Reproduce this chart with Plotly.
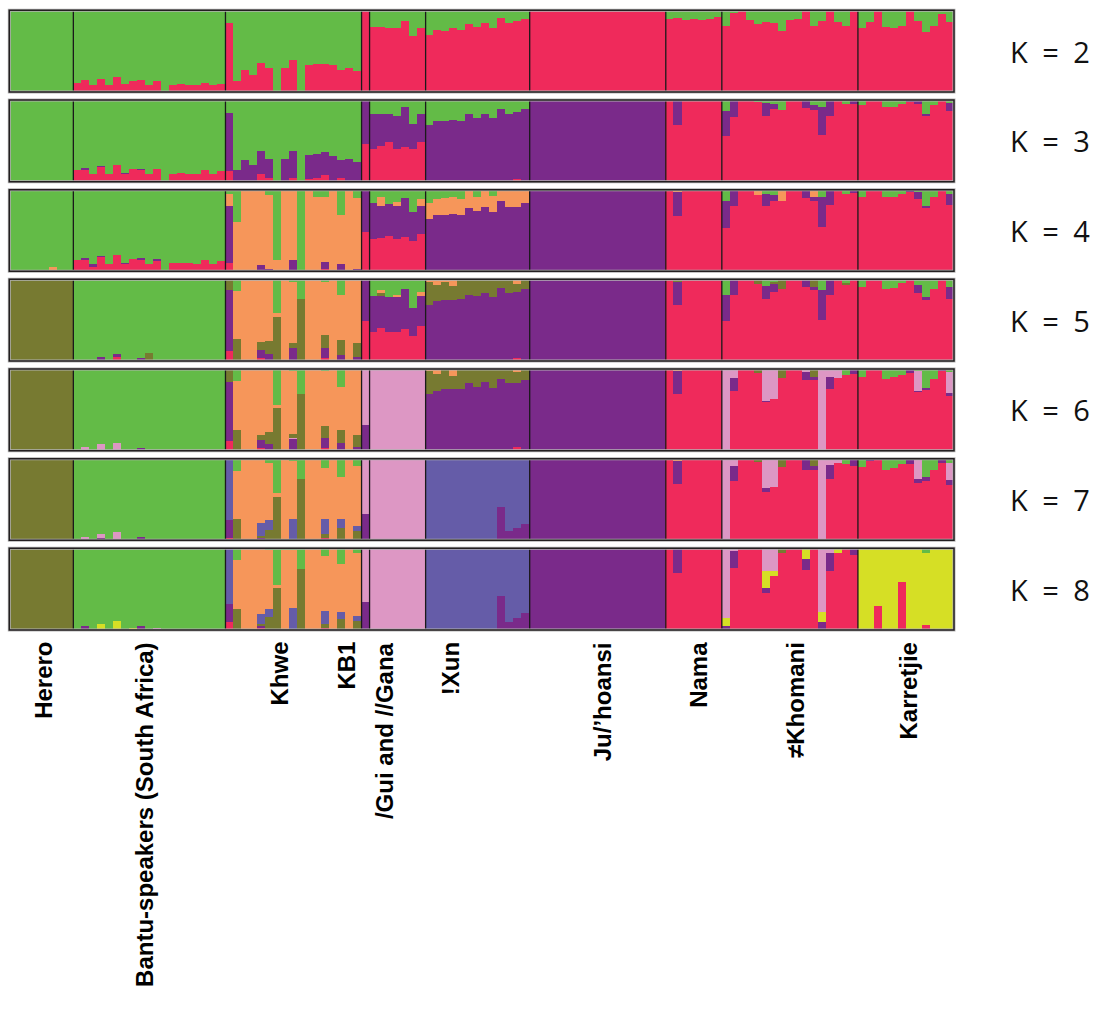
import plotly.graph_objects as go

# Population groups in plotting order and number of individuals per group
GROUPS = ["Herero", "Bantu-speakers (South Africa)", "Khwe", "KB1", "/Gui and //Gana",
          "!Xun", "Ju/’hoansi", "Nama", "≠Khomani", "Karretjie"]
GROUP_SIZES = [8, 19, 17, 1, 7, 13, 17, 7, 17, 12]
LABEL_SHIFT = [2, -5, -14, -20, -13, -27, 5, 4, 5, 3]

COLORS = {
    "red": "#EF2A5B",
    "purple": "#7A2A8A",
    "orange": "#F6965A",
    "olive": "#777A31",
    "pink": "#DD97C4",
    "slate": "#655CA8",
    "yellow": "#D6DF25",
    "green": "#63BB47",
}

# Ancestry proportions (percent) per individual; green takes the remainder of each bar
K2_RED = [
    0,0,0,0,0,0,0,0,
    11,14,8,16,8,18,9,13,14,8,13,0,8,9,8,8,11,8,10,
    84,13,26,20,35,29,0,29,39,0,33,34,34,33,26,29,25,
    100,
    79,79,78,78,86,68,78,
    70,75,74,78,75,83,79,84,78,90,84,86,89,
    100,100,100,100,100,100,100,100,100,100,100,100,100,100,100,100,100,
    89,90,88,89,88,89,91,
    81,96,100,88,83,85,84,74,88,89,99,81,86,100,85,80,100,
    78,85,100,79,78,80,100,86,73,80,95,85,
]

K3_RED = [
    0,0,0,0,0,0,0,0,
    14,14,9,18,9,21,10,15,15,10,15,0,10,11,10,10,14,10,13,
    13,0,1,0,9,4,0,0,5,0,3,5,8,0,5,0,0,
    46,
    40,44,48,40,43,40,48,
    0,0,0,0,0,0,0,0,0,0,0,3,0,
    0,0,0,0,0,0,0,0,0,0,0,0,0,0,0,0,0,
    100,70,100,100,100,100,100,
    56,79,100,100,97,81,89,88,100,100,90,88,57,81,100,95,95,
    94,100,100,92,92,95,97,95,80,94,100,87,
]
K3_PURPLE = [
    0,0,0,0,0,0,0,0,
    0,3,0,1,0,0,1,0,1,0,0,0,0,0,0,0,0,0,0,
    71,14,26,20,28,24,0,28,33,0,30,29,28,31,21,28,24,
    54,
    43,39,35,41,48,31,35,
    69,74,74,76,74,83,78,83,78,89,83,82,89,
    100,100,100,100,100,100,100,100,100,100,100,100,100,100,100,100,100,
    0,29,0,0,0,0,0,
    30,21,0,0,0,15,6,0,0,0,10,6,35,19,0,0,5,
    0,0,0,0,0,0,3,4,3,0,0,9,
]

K4_RED = [
    0,0,0,0,0,0,0,0,
    14,14,6,18,10,21,10,15,14,10,14,0,11,11,11,10,14,10,13,
    11,0,0,0,0,0,0,0,0,0,0,0,3,0,1,0,0,
    49,
    40,41,44,40,43,38,46,
    0,0,0,0,0,0,0,0,0,0,0,0,0,
    0,0,0,0,0,0,0,0,0,0,0,0,0,0,0,0,0,
    100,68,100,100,100,100,100,
    54,81,100,100,94,80,86,86,100,100,90,87,55,82,100,95,96,
    92,100,100,92,92,95,97,89,79,92,100,82,
]
K4_PURPLE = [
    0,0,0,0,0,0,0,0,
    0,3,3,1,0,0,1,0,3,0,1,0,0,0,0,0,0,0,0,
    70,0,0,0,8,3,0,0,14,0,0,0,9,0,8,0,3,
    51,
    44,39,39,40,47,35,35,
    65,70,69,71,70,78,74,79,73,86,79,79,84,
    100,100,100,100,100,100,100,100,100,100,100,100,100,100,100,100,100,
    0,29,0,0,0,0,0,
    32,19,0,0,0,15,8,0,0,0,10,4,37,18,0,0,4,
    0,0,0,0,0,0,3,9,2,0,0,13,
]
K4_ORANGE = [
    0,0,0,0,0,6,0,0,
    0,0,0,0,0,0,0,0,0,0,0,0,0,0,0,0,0,0,0,
    14,61,100,100,92,91,14,100,86,0,100,92,80,100,61,100,87,
    0,
    0,11,0,5,0,0,8,
    19,19,21,20,19,21,17,21,20,14,21,21,16,
    0,0,0,0,0,0,0,0,0,0,0,0,0,0,0,0,0,
    0,3,0,0,0,0,0,
    0,0,0,0,6,0,0,14,0,0,0,9,0,0,0,0,0,
    0,0,0,0,0,0,0,0,0,0,0,0,
]

K5_RED = [
    0,0,0,0,0,0,0,0,
    0,0,0,0,0,5,0,0,0,0,0,0,0,0,0,0,0,0,0,
    12,0,0,0,3,0,0,0,0,0,0,0,3,0,1,0,0,
    48,
    35,40,35,35,39,30,43,
    0,0,0,0,0,0,0,0,0,0,0,3,0,
    0,0,0,0,0,0,0,0,0,0,0,0,0,0,0,0,0,
    100,68,100,100,100,100,100,
    48,80,100,100,94,75,84,88,100,100,90,86,50,81,100,93,100,
    90,100,100,88,89,95,100,83,74,88,100,76,
]
K5_PURPLE = [
    0,0,0,0,0,0,0,0,
    0,1,0,4,0,3,0,0,3,0,1,0,0,0,0,0,0,0,0,
    74,0,0,0,10,8,0,0,16,0,0,0,13,0,6,0,4,
    52,
    44,39,43,43,49,35,36,
    68,73,74,74,76,81,79,83,78,89,83,81,88,
    100,100,100,100,100,100,100,100,100,100,100,100,100,100,100,100,100,
    0,28,0,0,0,0,0,
    33,20,0,0,0,17,11,0,0,0,10,4,37,19,0,0,0,
    0,0,0,0,0,0,0,10,4,0,0,14,
]
K5_OLIVE = [
    100,100,100,100,100,100,100,100,
    0,0,0,0,0,0,0,0,0,9,0,0,0,0,0,0,0,0,0,
    14,26,0,0,10,16,54,0,6,75,0,0,16,0,18,0,18,
    0,
    0,4,0,0,0,0,0,
    28,20,22,17,24,19,20,17,22,11,17,10,12,
    0,0,0,0,0,0,0,0,0,0,0,0,0,0,0,0,0,
    0,4,0,0,0,0,0,
    0,0,0,0,6,0,1,12,0,0,0,10,0,0,0,2,0,
    0,0,0,0,0,0,0,0,0,0,0,0,
]
K5_ORANGE = [
    0,0,0,0,0,0,0,0,
    0,0,0,0,0,0,0,0,0,0,0,0,0,0,0,0,0,0,0,
    0,59,100,100,77,76,4,100,74,0,100,100,64,100,56,100,78,
    0,
    0,4,0,2,0,0,5,
    4,7,4,9,0,0,1,0,0,0,0,6,0,
    0,0,0,0,0,0,0,0,0,0,0,0,0,0,0,0,0,
    0,0,0,0,0,0,0,
    0,0,0,0,0,0,0,0,0,0,0,0,0,0,0,0,0,
    0,0,0,0,0,0,0,0,0,0,0,0,
]

K6_RED = [
    0,0,0,0,0,0,0,0,
    0,0,0,0,0,0,0,0,0,0,0,0,0,0,0,0,0,0,0,
    12,0,0,0,3,0,0,0,0,0,0,0,3,0,1,0,0,
    0,
    0,0,0,0,0,0,0,
    0,0,0,0,0,0,0,0,0,0,0,4,0,
    0,0,0,0,0,0,0,0,0,0,0,0,0,0,0,0,0,
    100,69,100,100,100,100,100,
    0,73,100,100,95,60,63,89,100,100,87,86,0,75,89,93,94,
    90,100,100,88,90,93,95,72,74,88,98,67,
]
K6_PURPLE = [
    0,0,0,0,0,0,0,0,
    0,0,0,0,0,0,0,0,3,0,0,0,0,0,0,0,0,0,0,
    72,0,0,0,10,8,0,0,15,0,0,0,12,0,8,0,4,
    31,
    0,0,0,0,0,0,0,
    69,73,75,75,75,83,78,84,77,88,83,79,87,
    100,100,100,100,100,100,100,100,100,100,100,100,100,100,100,100,100,
    0,28,0,0,0,0,0,
    0,16,0,0,0,1,0,0,0,0,9,4,0,15,0,0,6,
    0,0,0,0,0,0,5,1,3,0,2,4,
]
K6_PINK = [
    0,0,0,0,0,0,0,0,
    0,4,0,8,0,10,0,1,0,0,1,0,0,0,0,0,0,0,0,
    0,0,0,0,0,0,0,0,1,0,0,0,0,0,0,0,0,
    69,
    100,100,100,100,100,100,100,
    0,0,0,0,0,0,0,0,0,0,0,0,0,
    0,0,0,0,0,0,0,0,0,0,0,0,0,0,0,0,0,
    0,0,0,0,0,0,0,
    100,11,0,0,0,39,37,0,0,0,4,0,100,10,11,0,0,
    0,0,0,0,0,0,0,25,0,0,0,25,
]
K6_OLIVE = [
    100,100,100,100,100,100,100,100,
    0,0,0,0,0,0,0,0,0,1,0,0,0,0,0,0,0,0,0,
    16,25,0,0,6,15,52,0,4,69,0,0,15,0,16,0,15,
    0,
    0,0,0,0,0,0,0,
    28,21,25,17,25,17,22,16,23,12,17,13,13,
    0,0,0,0,0,0,0,0,0,0,0,0,0,0,0,0,0,
    0,0,0,0,0,0,0,
    0,0,0,0,5,0,0,11,0,0,0,10,0,0,0,0,0,
    0,0,0,0,0,0,0,0,0,0,0,0,
]
K6_ORANGE = [
    0,0,0,0,0,0,0,0,
    0,0,0,0,0,0,0,0,0,0,0,0,0,0,0,0,0,0,0,
    0,60,100,100,81,77,4,100,78,0,100,100,68,100,53,100,81,
    0,
    0,0,0,0,0,0,0,
    3,6,0,8,0,0,0,0,0,0,0,4,0,
    0,0,0,0,0,0,0,0,0,0,0,0,0,0,0,0,0,
    0,3,0,0,0,0,0,
    0,0,0,0,0,0,0,0,0,0,0,0,0,0,0,0,0,
    0,0,0,0,0,0,0,0,0,0,0,0,
]

K7_RED = [
    0,0,0,0,0,0,0,0,
    0,0,0,0,0,0,0,0,0,0,0,0,0,0,0,0,0,0,0,
    3,0,0,0,2,0,0,0,0,0,0,0,3,0,0,0,0,
    0,
    0,0,0,0,0,0,0,
    0,0,0,0,0,0,0,0,0,0,0,0,0,
    0,0,0,0,0,0,0,0,0,0,0,0,0,0,0,0,0,
    100,70,100,100,100,100,100,
    0,73,100,100,96,60,66,90,100,100,87,86,0,75,95,94,92,
    90,97,100,87,89,94,94,71,73,86,95,68,
]
K7_PURPLE = [
    0,0,0,0,0,0,0,0,
    0,3,0,3,0,0,0,0,4,0,0,0,0,0,0,0,0,0,0,
    22,0,0,0,1,0,0,0,0,0,0,0,0,0,1,0,0,
    33,
    0,0,0,0,0,0,0,
    0,0,0,0,0,0,0,0,0,41,12,15,21,
    100,100,100,100,100,100,100,100,100,100,100,100,100,100,100,100,100,
    0,27,0,0,0,0,0,
    0,18,0,0,0,5,0,0,0,0,13,5,0,18,0,0,8,
    0,3,0,0,0,0,6,5,5,0,5,6,
]
K7_PINK = [
    0,0,0,0,0,0,0,0,
    0,1,0,5,0,11,0,2,0,0,2,0,0,0,0,0,0,0,0,
    0,0,0,0,0,0,0,0,0,0,0,0,0,0,0,0,0,
    67,
    100,100,100,100,100,100,100,
    0,0,0,0,0,0,0,0,0,0,0,0,0,
    0,0,0,0,0,0,0,0,0,0,0,0,0,0,0,0,0,
    0,0,0,0,0,0,0,
    100,9,0,0,0,35,33,0,0,0,0,0,100,7,5,0,0,
    0,0,0,0,0,0,0,23,0,0,0,21,
]
K7_OLIVE = [
    100,100,100,100,100,100,100,100,
    0,0,0,0,0,0,0,0,0,2,0,0,0,0,0,0,0,0,0,
    0,26,0,0,3,13,54,0,0,75,0,0,5,0,15,0,12,
    0,
    0,0,0,0,0,0,0,
    0,0,0,0,0,0,0,0,0,0,0,0,0,
    0,0,0,0,0,0,0,0,0,0,0,0,0,0,0,0,0,
    0,0,0,0,0,0,0,
    0,0,0,0,4,0,1,10,0,0,0,9,0,0,0,0,0,
    0,0,0,0,0,0,0,0,0,0,0,0,
]
K7_SLATE = [
    0,0,0,0,0,0,0,0,
    0,0,0,0,0,0,0,0,0,0,0,0,0,0,0,0,0,0,0,
    75,0,0,0,16,12,0,0,27,0,0,0,19,0,11,0,6,
    0,
    0,0,0,0,0,0,0,
    100,100,100,100,100,100,100,100,100,59,88,85,79,
    0,0,0,0,0,0,0,0,0,0,0,0,0,0,0,0,0,
    0,0,0,0,0,0,0,
    0,0,0,0,0,0,0,0,0,0,0,0,0,0,0,0,0,
    0,0,0,0,0,0,0,0,0,0,0,0,
]
K7_ORANGE = [
    0,0,0,0,0,0,0,0,
    0,0,0,0,0,0,0,0,0,0,0,0,0,0,0,0,0,0,0,
    0,59,100,100,78,70,4,100,71,0,100,100,62,100,51,100,74,
    0,
    0,0,0,0,0,0,0,
    0,0,0,0,0,0,0,0,0,0,0,0,0,
    0,0,0,0,0,0,0,0,0,0,0,0,0,0,0,0,0,
    0,3,0,0,0,0,0,
    0,0,0,0,0,0,0,0,0,0,0,0,0,0,0,0,0,
    0,0,0,0,0,0,0,0,0,0,0,0,
]

K8_RED = [
    0,0,0,0,0,0,0,0,
    0,0,0,0,0,0,0,0,0,0,0,0,0,0,0,0,0,0,0,
    9,0,0,0,3,0,0,0,0,0,0,0,2,0,0,0,0,
    0,
    0,0,0,0,0,0,0,
    0,0,0,0,0,0,0,0,0,0,0,0,0,
    0,0,0,0,0,0,0,0,0,0,0,0,0,0,0,0,0,
    100,70,100,100,100,100,100,
    0,75,100,100,100,45,66,94,100,100,73,100,0,72,94,100,91,
    0,0,29,0,0,59,0,0,6,0,0,0,
]
K8_PURPLE = [
    0,0,0,0,0,0,0,0,
    0,4,0,0,0,0,0,0,4,0,0,0,0,0,0,0,0,0,0,
    22,0,0,0,1,0,0,0,0,0,0,0,0,0,1,0,0,
    34,
    0,0,0,0,0,0,0,
    0,0,0,0,0,0,0,0,0,41,10,14,21,
    100,100,100,100,100,100,100,100,100,100,100,100,100,100,100,100,100,
    0,30,0,0,0,0,0,
    4,21,0,0,0,6,0,0,0,0,14,0,10,22,0,0,9,
    0,0,0,0,0,0,0,0,0,0,0,0,
]
K8_YELLOW = [
    0,0,0,0,0,0,0,0,
    0,0,0,7,0,11,0,2,0,0,0,0,0,0,0,0,0,0,0,
    0,0,0,0,0,0,0,0,0,0,0,0,0,0,0,0,0,
    0,
    0,0,0,0,0,0,0,
    0,0,0,0,0,0,0,0,0,0,0,0,0,
    0,0,0,0,0,0,0,0,0,0,0,0,0,0,0,0,0,
    0,0,0,0,0,0,0,
    10,0,0,0,0,21,6,0,0,0,13,0,12,0,5,0,0,
    100,100,71,100,99,41,100,100,88,100,100,100,
]
K8_PINK = [
    0,0,0,0,0,0,0,0,
    0,0,0,0,0,0,0,0,0,0,2,0,0,0,0,0,0,0,0,
    0,0,0,0,0,0,0,0,0,0,0,0,0,0,0,0,0,
    66,
    100,100,100,100,100,100,100,
    0,0,0,0,0,0,0,0,0,0,0,0,0,
    0,0,0,0,0,0,0,0,0,0,0,0,0,0,0,0,0,
    0,0,0,0,0,0,0,
    86,4,0,0,0,28,28,0,0,0,0,0,78,6,1,0,0,
    0,0,0,0,0,0,0,0,0,0,0,0,
]
K8_OLIVE = [
    100,100,100,100,100,100,100,100,
    0,0,0,0,0,0,0,0,0,0,0,0,0,0,0,0,0,0,0,
    0,25,0,0,3,15,51,0,0,74,0,0,5,0,12,0,11,
    0,
    0,0,0,0,0,0,0,
    0,0,0,0,0,0,0,0,0,0,0,0,0,
    0,0,0,0,0,0,0,0,0,0,0,0,0,0,0,0,0,
    0,0,0,0,0,0,0,
    0,0,0,0,0,0,0,6,0,0,0,0,0,0,0,0,0,
    0,0,0,0,0,0,0,0,0,0,0,0,
]
K8_SLATE = [
    0,0,0,0,0,0,0,0,
    0,0,0,0,0,0,0,0,0,0,0,0,0,0,0,0,0,0,0,
    69,0,0,0,12,10,0,0,27,0,0,0,16,0,9,0,6,
    0,
    0,0,0,0,0,0,0,
    100,100,100,100,100,100,100,100,100,59,90,86,79,
    0,0,0,0,0,0,0,0,0,0,0,0,0,0,0,0,0,
    0,0,0,0,0,0,0,
    0,0,0,0,0,0,0,0,0,0,0,0,0,0,0,0,0,
    0,0,0,0,0,0,0,0,0,0,0,0,
]
K8_ORANGE = [
    0,0,0,0,0,0,0,0,
    0,0,0,0,0,0,0,0,0,0,0,0,0,0,0,0,0,0,0,
    0,60,100,100,81,73,4,98,71,0,100,100,67,100,58,100,77,
    0,
    0,0,0,0,0,0,0,
    0,0,0,0,0,0,0,0,0,0,0,0,0,
    0,0,0,0,0,0,0,0,0,0,0,0,0,0,0,0,0,
    0,0,0,0,0,0,0,
    0,0,0,0,0,0,0,0,0,0,0,0,0,0,0,0,0,
    0,0,0,0,0,0,0,0,0,0,0,0,
]

# Each panel: label and clusters in stacking order (bottom to top), green on top
PANELS = [
    ("K = 2", [("red", K2_RED)]),
    ("K = 3", [("red", K3_RED), ("purple", K3_PURPLE)]),
    ("K = 4", [("red", K4_RED), ("purple", K4_PURPLE), ("orange", K4_ORANGE)]),
    ("K = 5", [("red", K5_RED), ("purple", K5_PURPLE), ("olive", K5_OLIVE), ("orange", K5_ORANGE)]),
    ("K = 6", [("red", K6_RED), ("purple", K6_PURPLE), ("pink", K6_PINK), ("olive", K6_OLIVE),
               ("orange", K6_ORANGE)]),
    ("K = 7", [("red", K7_RED), ("purple", K7_PURPLE), ("pink", K7_PINK), ("olive", K7_OLIVE),
               ("slate", K7_SLATE), ("orange", K7_ORANGE)]),
    ("K = 8", [("red", K8_RED), ("purple", K8_PURPLE), ("yellow", K8_YELLOW), ("pink", K8_PINK),
               ("olive", K8_OLIVE), ("slate", K8_SLATE), ("orange", K8_ORANGE)]),
]

W, H = 1103, 1013
N = sum(GROUP_SIZES)
for _, comps in PANELS:
    for name, vals in comps:
        assert len(vals) == N, (name, len(vals))

X_LEFT, X_RIGHT = 9.3, 954.0
PANEL_TOP0, PANEL_STEP, PANEL_H = 10.3, 89.67, 81.7

fig = go.Figure()
xs = list(range(N))
layout_axes = {}
shapes = []
annotations = []

# group boundaries (between individuals)
bounds = []
acc = 0
for s in GROUP_SIZES[:-1]:
    acc += s
    bounds.append(acc - 0.5)

for i, (klabel, comps) in enumerate(PANELS):
    sfx = "" if i == 0 else str(i + 1)
    xa, ya = "x" + sfx, "y" + sfx
    totals = [sum(vals[j] for _, vals in comps) for j in range(N)]
    green = [max(0, 100 - t) for t in totals]
    for name, vals in comps + [("green", green)]:
        fig.add_trace(go.Bar(
            x=xs, y=vals, xaxis=xa, yaxis=ya, width=1,
            marker=dict(color=COLORS[name], line=dict(width=0)),
            showlegend=False, hoverinfo="skip",
        ))
    top = PANEL_TOP0 + PANEL_STEP * i
    bot = top + PANEL_H
    layout_axes["xaxis" + sfx] = dict(domain=[X_LEFT / W, X_RIGHT / W], range=[-0.5, N - 0.5],
                                      visible=False, anchor=ya, fixedrange=True)
    layout_axes["yaxis" + sfx] = dict(domain=[1 - bot / H, 1 - top / H], range=[0, 100],
                                      visible=False, anchor=xa, fixedrange=True)
    # separators between groups
    for b in bounds:
        shapes.append(dict(type="line", xref=xa, yref=ya + " domain", x0=b, x1=b, y0=0, y1=1,
                           line=dict(color="#1a1a1a", width=1.3), layer="above"))
    # panel frame: light grey halo with a dark line on top
    shapes.append(dict(type="rect", xref=xa + " domain", yref=ya + " domain", x0=0, x1=1, y0=0, y1=1,
                       line=dict(color="#b4b4b4", width=3), layer="above"))
    shapes.append(dict(type="rect", xref=xa + " domain", yref=ya + " domain", x0=0, x1=1, y0=0, y1=1,
                       line=dict(color="#231F20", width=1.5), layer="above"))
    annotations.append(dict(
        text="K\u2002=\u2002" + klabel.split("= ")[1], xref="paper", yref="paper",
        x=1050 / W, y=1 - (top + PANEL_H / 2) / H,
        xanchor="center", yanchor="middle", showarrow=False,
        font=dict(family="Open Sans, Lato, sans-serif", size=29, color="#111111"),
    ))

# population labels under the last panel
last = str(len(PANELS))
start = 0
for g, size, shift in zip(GROUPS, GROUP_SIZES, LABEL_SHIFT):
    center = start + size / 2 - 0.5
    annotations.append(dict(
        text="<b>" + g + "</b>", xref="x" + last, yref="y" + last + " domain",
        x=center, y=0, xshift=shift, yshift=-10, textangle=-90,
        xanchor="center", yanchor="top", showarrow=False,
        font=dict(family="Liberation Sans, Arial, sans-serif", size=24, color="#000000"),
    ))
    start += size

fig.update_layout(
    width=W, height=H, margin=dict(l=0, r=0, t=0, b=0),
    paper_bgcolor="white", plot_bgcolor="white",
    barmode="stack", bargap=0, showlegend=False,
    shapes=shapes, annotations=annotations,
    **layout_axes,
)

fig.write_html("out.html")
